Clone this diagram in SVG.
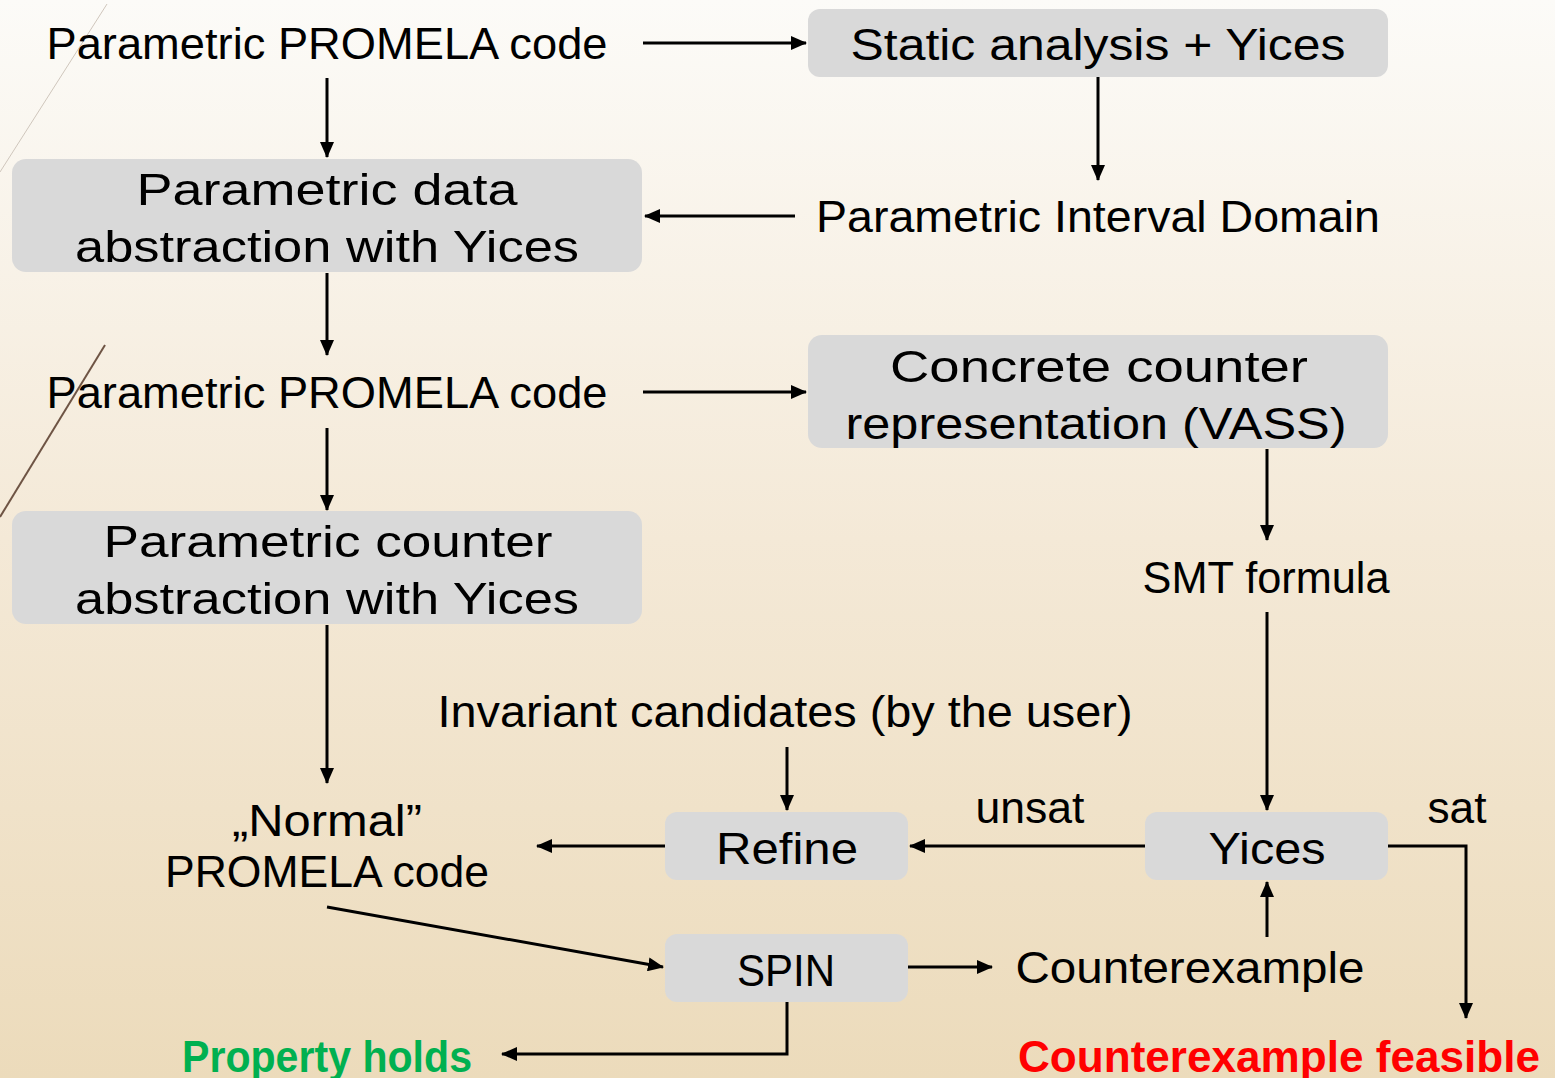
<svg xmlns="http://www.w3.org/2000/svg" width="1555" height="1078" viewBox="0 0 1555 1078">
<defs>
<linearGradient id="bg" x1="0" y1="0" x2="0" y2="1">
<stop offset="0" stop-color="#fcfbf8"/>
<stop offset="0.5" stop-color="#f4e9d7"/>
<stop offset="1" stop-color="#ecdbbb"/>
</linearGradient>
<marker id="ah" viewBox="0 0 16 14" refX="15" refY="7" markerWidth="16" markerHeight="14" markerUnits="userSpaceOnUse" orient="auto">
<path d="M0,0 L16,7 L0,14 Z" fill="#000"/>
</marker>
<style>
.box{fill:#d9d9d9}
.t{font-family:"Liberation Sans",Arial,sans-serif;font-size:44px;fill:#000;text-anchor:middle}
.c{fill:none;stroke:#000;stroke-width:3}
.a{marker-end:url(#ah)}
.b{font-weight:bold}
</style>
</defs>
<rect x="0" y="0" width="1555" height="1078" fill="url(#bg)"/>
<line x1="107" y1="4" x2="0" y2="172" stroke="#cfc6bc" stroke-width="1"/>
<line x1="105" y1="345" x2="0" y2="517" stroke="#6e5444" stroke-width="2"/>

<g id="connectors">
<line class="c a" x1="643" y1="43" x2="806" y2="43"/>
<line class="c a" x1="327" y1="78" x2="327" y2="157"/>
<line class="c a" x1="1098" y1="77" x2="1098" y2="180"/>
<line class="c a" x1="795" y1="216" x2="645" y2="216"/>
<line class="c a" x1="327" y1="273" x2="327" y2="355"/>
<line class="c a" x1="643" y1="392" x2="806" y2="392"/>
<line class="c a" x1="327" y1="428" x2="327" y2="510"/>
<line class="c a" x1="1267" y1="449" x2="1267" y2="540"/>
<line class="c a" x1="1267" y1="612" x2="1267" y2="810"/>
<line class="c a" x1="327" y1="625" x2="327" y2="783"/>
<line class="c a" x1="787" y1="747" x2="787" y2="810"/>
<line class="c a" x1="1145" y1="846" x2="910" y2="846"/>
<polyline class="c a" points="1388,846 1466,846 1466,1018"/>
<line class="c a" x1="665" y1="846" x2="537" y2="846"/>
<line class="c a" x1="327" y1="907" x2="663" y2="967"/>
<line class="c a" x1="908" y1="967" x2="992" y2="967"/>
<line class="c a" x1="1267" y1="937" x2="1267" y2="882"/>
<polyline class="c a" points="787,1002 787,1054 502,1054"/>
</g>

<g id="n-code1"><text class="t" x="327" y="59" textLength="561" lengthAdjust="spacingAndGlyphs">Parametric PROMELA code</text></g>
<g id="n-static"><rect class="box" x="808" y="9" width="580" height="68" rx="12"/><text class="t" x="1098" y="60" textLength="495" lengthAdjust="spacingAndGlyphs">Static analysis + Yices</text></g>
<g id="n-dataabs"><rect class="box" x="12" y="159" width="630" height="113" rx="14"/>
<text class="t" x="327" y="205" textLength="381" lengthAdjust="spacingAndGlyphs">Parametric data</text>
<text class="t" x="327" y="262" textLength="504" lengthAdjust="spacingAndGlyphs">abstraction with Yices</text></g>
<g id="n-interval"><text class="t" x="1098" y="232" textLength="564" lengthAdjust="spacingAndGlyphs">Parametric Interval Domain</text></g>
<g id="n-code2"><text class="t" x="327" y="408" textLength="561" lengthAdjust="spacingAndGlyphs">Parametric PROMELA code</text></g>
<g id="n-vass"><rect class="box" x="808" y="335" width="580" height="113" rx="14"/>
<text class="t" x="1099" y="382" textLength="418" lengthAdjust="spacingAndGlyphs">Concrete counter</text>
<text class="t" x="1096" y="439" textLength="501" lengthAdjust="spacingAndGlyphs">representation (VASS)</text></g>
<g id="n-counterabs"><rect class="box" x="12" y="511" width="630" height="113" rx="14"/>
<text class="t" x="328" y="557" textLength="449" lengthAdjust="spacingAndGlyphs">Parametric counter</text>
<text class="t" x="327" y="614" textLength="504" lengthAdjust="spacingAndGlyphs">abstraction with Yices</text></g>
<g id="n-smt"><text class="t" x="1266" y="593" textLength="247" lengthAdjust="spacingAndGlyphs">SMT formula</text></g>
<g id="n-inv"><text class="t" x="785" y="727" textLength="695" lengthAdjust="spacingAndGlyphs">Invariant candidates (by the user)</text></g>
<g id="n-refine"><rect class="box" x="665" y="812" width="243" height="68" rx="12"/><text class="t" x="787" y="864" textLength="142" lengthAdjust="spacingAndGlyphs">Refine</text></g>
<g id="n-yices"><rect class="box" x="1145" y="812" width="243" height="68" rx="12"/><text class="t" x="1267" y="864" textLength="117" lengthAdjust="spacingAndGlyphs">Yices</text></g>
<g id="l-unsat"><text class="t" x="1030" y="823" textLength="109" lengthAdjust="spacingAndGlyphs">unsat</text></g>
<g id="l-sat"><text class="t" x="1457" y="823" textLength="59" lengthAdjust="spacingAndGlyphs">sat</text></g>
<g id="n-normal"><text class="t" x="327" y="836" textLength="190" lengthAdjust="spacingAndGlyphs">„Normal”</text>
<text class="t" x="327" y="887" textLength="324" lengthAdjust="spacingAndGlyphs">PROMELA code</text></g>
<g id="n-spin"><rect class="box" x="665" y="934" width="243" height="68" rx="12"/><text class="t" x="786" y="986" textLength="98" lengthAdjust="spacingAndGlyphs">SPIN</text></g>
<g id="n-cex"><text class="t" x="1190" y="983" textLength="349" lengthAdjust="spacingAndGlyphs">Counterexample</text></g>
<g id="n-holds"><text class="t b" x="327" y="1072" style="fill:#00b050" textLength="290" lengthAdjust="spacingAndGlyphs">Property holds</text></g>
<g id="n-feasible"><text class="t b" x="1279" y="1072" style="fill:#ff0000" textLength="522" lengthAdjust="spacingAndGlyphs">Counterexample feasible</text></g>
</svg>
